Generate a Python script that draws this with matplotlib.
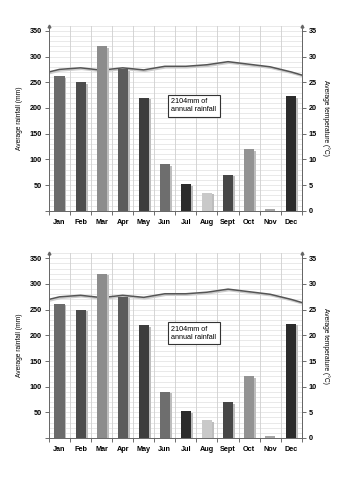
import numpy as np
import matplotlib.pyplot as plt

months = ['Jan', 'Feb', 'Mar', 'Apr', 'May', 'Jun', 'Jul', 'Aug', 'Sept', 'Oct', 'Nov', 'Dec']
rainfall = [262, 250, 320, 275, 220, 90, 52, 35, 70, 120, 3, 223]
# temperature at month centres, plus the values where the line meets each axis
temperature = [27.5, 27.8, 27.35, 27.8, 27.4, 28.1, 28.1, 28.4, 29.0, 28.5, 28.0, 27.0]
temp_start = 27.0
temp_end = 26.4
bar_colors = ['#6b6b6b', '#4d4d4d', '#8c8c8c', '#5c5c5c', '#3d3d3d', '#6e6e6e',
              '#2b2b2b', '#c9c9c9', '#474747', '#939393', '#a6a6a6', '#2b2b2b']
annotation = '2104mm of\nannual rainfall'

plt.rcParams['font.family'] = ['Liberation Sans', 'DejaVu Sans']


def draw_chart(ax):
    x = np.arange(len(months))

    # grid
    for yy in np.arange(0, 361, 10):
        ax.axhline(yy, color='#e0e0e0', lw=0.5, zorder=0)
    for b in np.arange(-0.5, 12.0, 1.0):
        ax.axvline(b, color='#cfcfcf', lw=0.6, zorder=0)

    ax.set_xlim(-0.5, 11.5)
    ax.set_ylim(0, 360)

    # temperature line lives on the twin scale (1 degree = 10 mm), drawn under the bars
    ax2 = ax.twinx()
    ax2.set_ylim(0, 36)
    scale = ax.get_ylim()[1] / ax2.get_ylim()[1]
    tx = np.concatenate([[-0.5], x, [11.5]])
    ty = np.concatenate([[temp_start], temperature, [temp_end]]) * scale
    ax.plot(tx + 0.05, ty - 2.5, color='#cccccc', lw=1.4, zorder=1)
    ax.plot(tx, ty, color='#555555', lw=1.1, zorder=1.5)

    # bar shadows then bars
    ax.bar(x + 0.09, np.maximum(np.array(rainfall) - 3, 0), width=0.48,
           color='#bdbdbd', zorder=2)
    ax.bar(x, rainfall, width=0.48, color=bar_colors, zorder=3)

    ax.set_yticks(np.arange(0, 351, 50))
    ax.set_yticklabels([''] + [str(v) for v in range(50, 351, 50)])
    ax.set_xticks(np.arange(-0.5, 12.0, 1.0))
    ax.set_xticklabels([])
    ax.set_xticks(x, minor=True)
    ax.set_xticklabels(months, minor=True)
    ax.tick_params(axis='x', which='minor', length=0, pad=6)
    ax.tick_params(axis='x', which='major', length=3, direction='out', width=0.6, color='#555555')
    ax.tick_params(axis='y', length=3, width=0.6, color='#555555', pad=2)
    for lab in ax.get_xticklabels(minor=True) + ax.get_yticklabels():
        lab.set_fontsize(5.2)
        lab.set_fontweight('bold')
    ax.set_ylabel('Average rainfall (mm)', fontsize=4.8, labelpad=5)

    ax.spines['top'].set_visible(False)
    for s in ['left', 'right', 'bottom']:
        ax.spines[s].set_color('#666666')
        ax.spines[s].set_linewidth(0.7)
    ax.plot([-0.5], [360], marker='^', color='#666666', ms=2, clip_on=False, zorder=5)
    ax.plot([11.5], [360], marker='^', color='#666666', ms=2, clip_on=False, zorder=5)

    ax.text(5.3, 204, annotation, fontsize=5.2, ha='left', va='center', zorder=6,
            linespacing=1.2,
            bbox=dict(boxstyle='square,pad=0.5', fc='white', ec='#333333', lw=0.8))

    ax2.set_yticks(np.arange(0, 36, 5))
    ax2.tick_params(axis='y', length=3, width=0.6, color='#555555', pad=2)
    for lab in ax2.get_yticklabels():
        lab.set_fontsize(5.2)
        lab.set_fontweight('bold')
    ax2.set_ylabel('Average temperature (\u00b0C)', fontsize=4.8, rotation=270, labelpad=9)
    ax2.spines['top'].set_visible(False)
    ax2.spines['right'].set_color('#666666')
    ax2.spines['right'].set_linewidth(0.7)
    ax2.spines['left'].set_visible(False)
    ax2.spines['bottom'].set_visible(False)


fig = plt.figure(figsize=(3.54, 5.0), dpi=100)
ax_top = fig.add_axes([0.1384, 0.5786, 0.714, 0.37])
ax_bot = fig.add_axes([0.1384, 0.124, 0.714, 0.3696])
draw_chart(ax_top)
draw_chart(ax_bot)

fig.savefig('out.png', dpi=100)
